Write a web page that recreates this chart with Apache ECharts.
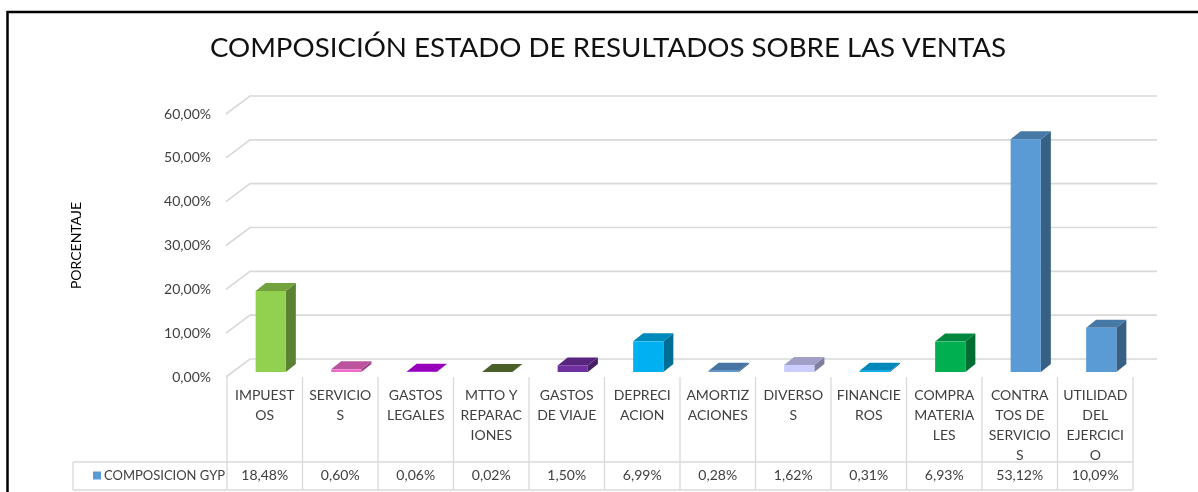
<!DOCTYPE html>
<html>
<head>
<meta charset="utf-8">
<script src="https://cdn.jsdelivr.net/npm/echarts@6/dist/echarts.min.js"></script>
<style>
  html, body { margin: 0; padding: 0; background: #fff; }
  #chart { width: 1198px; height: 492px; }
</style>
</head>
<body>
<div id="chart"></div>
<script>
// datos
const categories = ['IMPUESTOS', 'SERVICIOS', 'GASTOS LEGALES', 'MTTO Y REPARACIONES', 'GASTOS DE VIAJE', 'DEPRECIACION',
  'AMORTIZACIONES', 'DIVERSOS', 'FINANCIEROS', 'COMPRA MATERIALES', 'CONTRATOS DE SERVICIOS', 'UTILIDAD DEL EJERCICIO']
const tickLabels = ['IMPUEST\nOS', 'SERVICIO\nS', 'GASTOS\nLEGALES', 'MTTO Y\nREPARAC\nIONES', 'GASTOS\nDE VIAJE', 'DEPRECI\nACION',
  'AMORTIZ\nACIONES', 'DIVERSO\nS', 'FINANCIE\nROS', 'COMPRA\nMATERIA\nLES', 'CONTRA\nTOS DE\nSERVICIO\nS', 'UTILIDAD\nDEL\nEJERCICI\nO']
const composicionGyp = [18.48, 0.60, 0.06, 0.02, 1.50, 6.99, 0.28, 1.62, 0.31, 6.93, 53.12, 10.09]
const yTicks = [0, 10, 20, 30, 40, 50, 60]
const barColors = ['#92D050', '#F06ACB', '#C000F0', '#607A33', '#7030A0', '#00B0F0',
  '#5A96D2', '#CCCCFF', '#00AEF0', '#00B050', '#5B9BD5', '#5B9BD5']

const FONT = 'Lato'
const DEPTH_X = 10     // profundidad 3D de las barras
const DEPTH_Y = 8
const WALL_X = 24      // profundidad del fondo
const WALL_Y = 18

function shade(hex, k) {
  const n = parseInt(hex.slice(1), 16)
  const r = Math.round(((n >> 16) & 255) * k)
  const g = Math.round(((n >> 8) & 255) * k)
  const b = Math.round((n & 255) * k)
  return 'rgb(' + r + ',' + g + ',' + b + ')'
}

function pct(v) {
  return v.toFixed(2).replace('.', ',') + '%'
}

const chart = echarts.init(document.getElementById('chart'))

const option = {
  animation: false,
  backgroundColor: '#fff',
  graphic: [{
    type: 'rect',
    shape: { x: 7.5, y: 12, width: 1300, height: 600 },
    style: { fill: 'none', stroke: '#000', lineWidth: 2.5 },
    z: 100
  }, {
    type: 'text',
    x: 608,
    y: 48,
    style: {
      text: 'COMPOSICIÓN ESTADO DE RESULTADOS SOBRE LAS VENTAS',
      fill: '#111',
      font: '27.7px ' + FONT,
      align: 'center',
      verticalAlign: 'middle'
    }
  }],
  legend: {
    left: 88,
    top: 464,
    icon: 'rect',
    itemWidth: 8,
    itemHeight: 8,
    itemGap: 6,
    selectedMode: false,
    data: ['COMPOSICION GYP'],
    textStyle: { fontFamily: FONT, fontSize: 13, color: '#404040', padding: [0, 0, 0, -2] }
  },
  grid: [{
    // barras
    left: 227, right: 65, top: 109, bottom: 120
  }, {
    // etiquetas del eje Y (cara frontal)
    left: 227, right: 65, top: 114, bottom: 115
  }],
  xAxis: [{
    type: 'category',
    gridIndex: 0,
    data: tickLabels,
    axisLine: { show: false },
    axisTick: { show: false },
    axisLabel: {
      interval: 0,
      margin: 13,
      verticalAlign: 'top',
      lineHeight: 20,
      fontFamily: FONT,
      fontSize: 14,
      color: '#404040'
    }
  }, {
    type: 'category',
    gridIndex: 0,
    position: 'bottom',
    offset: 96,
    data: categories,
    axisLine: { show: false },
    axisTick: { show: false },
    axisLabel: {
      interval: 0,
      margin: 0,
      verticalAlign: 'top',
      fontFamily: FONT,
      fontSize: 14,
      color: '#404040',
      formatter: (v, i) => pct(composicionGyp[i])
    }
  }, {
    type: 'category',
    gridIndex: 1,
    data: categories,
    show: false
  }],
  yAxis: [{
    type: 'value',
    gridIndex: 0,
    min: 0,
    max: 60,
    interval: 10,
    show: false
  }, {
    type: 'value',
    gridIndex: 1,
    min: 0,
    max: 60,
    interval: 10,
    name: 'PORCENTAJE',
    nameLocation: 'middle',
    nameRotate: 90,
    nameGap: 144,
    nameTextStyle: { fontFamily: FONT, fontSize: 14, color: '#000' },
    axisLine: { show: false },
    axisTick: { show: false },
    splitLine: { show: false },
    axisLabel: {
      margin: 16,
      fontFamily: FONT,
      fontSize: 14,
      color: '#404040',
      formatter: v => pct(v)
    }
  }],
  series: [{
    // lineas de division: diagonal frontal + pared del fondo
    type: 'custom',
    xAxisIndex: 0,
    yAxisIndex: 0,
    silent: true,
    z: 1,
    data: yTicks.map(v => [0, v]),
    renderItem(params, api) {
      const cs = params.coordSys
      const y = api.coord([0, api.value(1)])[1]
      const yFront = y + 5
      const yBack = yFront - WALL_Y
      const style = { stroke: '#D9D9D9', lineWidth: 1.6, fill: 'none' }
      return {
        type: 'polyline',
        shape: { points: [[cs.x - 1, yFront], [cs.x - 1 + WALL_X, yBack], [cs.x + cs.width + WALL_X, yBack]] },
        style
      }
    }
  }, {
    // tabla de datos
    type: 'custom',
    xAxisIndex: 0,
    yAxisIndex: 0,
    silent: true,
    z: 1,
    data: categories.map((c, i) => [i, 0]),
    renderItem(params, api) {
      const idx = api.value(0)
      const p = api.coord([idx, 0])
      const half = api.size([1, 0])[0] / 2
      const top = p[1] + 5
      const row = p[1] + 90
      const bottom = p[1] + 118
      const style = { stroke: '#D9D9D9', lineWidth: 1.3 }
      const left = idx === 0 ? 73 : p[0] - half
      const children = [
        { type: 'line', shape: { x1: p[0] - half, y1: top, x2: p[0] - half, y2: bottom }, style },
        { type: 'line', shape: { x1: left, y1: row, x2: p[0] + half, y2: row }, style },
        { type: 'line', shape: { x1: left, y1: bottom, x2: p[0] + half, y2: bottom }, style }
      ]
      if (idx === 0)
        children.push({ type: 'line', shape: { x1: 73, y1: row, x2: 73, y2: bottom }, style })
      if (idx === categories.length - 1)
        children.push({ type: 'line', shape: { x1: p[0] + half, y1: top, x2: p[0] + half, y2: bottom }, style })
      return { type: 'group', children }
    }
  }, {
    name: 'COMPOSICION GYP',
    type: 'custom',
    xAxisIndex: 0,
    yAxisIndex: 0,
    z: 5,
    itemStyle: { color: '#5B9BD5' },
    data: composicionGyp.map((v, i) => [i, v]),
    renderItem(params, api) {
      const idx = api.value(0)
      const base = api.coord([idx, 0])
      const tip = api.coord([idx, api.value(1)])
      const w = api.size([1, 0])[0] * 0.4
      const xl = base[0] + 6 - w / 2
      const xr = xl + w
      const y0 = base[1]
      const y1 = tip[1]
      const c = barColors[idx]
      return {
        type: 'group',
        children: [{
          type: 'polygon',
          shape: { points: [[xr, y1], [xr + DEPTH_X, y1 - DEPTH_Y], [xr + DEPTH_X, y0 - DEPTH_Y], [xr, y0]] },
          style: { fill: shade(c, 0.62) }
        }, {
          type: 'polygon',
          shape: { points: [[xl, y1], [xl + DEPTH_X, y1 - DEPTH_Y], [xr + DEPTH_X, y1 - DEPTH_Y], [xr, y1]] },
          style: { fill: shade(c, 0.78) }
        }, {
          type: 'rect',
          shape: { x: xl, y: y1, width: w, height: y0 - y1 },
          style: { fill: c }
        }]
      }
    }
  }]
}

chart.setOption(option)
</script>
</body>
</html>
